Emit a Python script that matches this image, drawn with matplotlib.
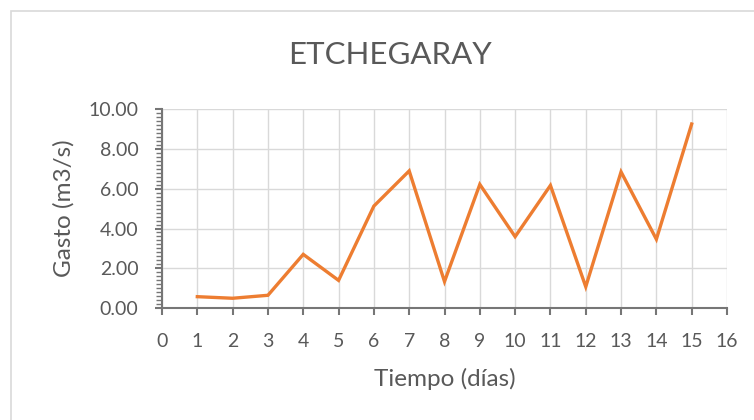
import matplotlib
matplotlib.use("Agg")
import matplotlib.pyplot as plt
from matplotlib.patches import Rectangle
from matplotlib.ticker import MultipleLocator, FormatStrFormatter

dias = [1, 2, 3, 4, 5, 6, 7, 8, 9, 10, 11, 12, 13, 14, 15]
gasto = [0.57, 0.49, 0.64, 2.70, 1.39, 5.13, 6.90, 1.33, 6.22, 3.59,
         6.17, 1.07, 6.85, 3.46, 9.26]
titulo = "ETCHEGARAY"
etiqueta_x = "Tiempo (días)"
etiqueta_y = "Gasto (m3/s)"

plt.rcParams['font.family'] = ['Lato', 'DejaVu Sans']
texto = '#595959'
eje = '#767676'
rejilla = '#d9d9d9'
naranja = '#ED7D31'

fig = plt.figure(figsize=(7.54, 4.20), dpi=100)
fig.patch.set_facecolor('white')

# chart-area frame
fig.patches.append(Rectangle((11 / 754, -0.1), 1.2, 1 - 11 / 420 + 0.1,
                             transform=fig.transFigure, fill=False,
                             edgecolor=rejilla, linewidth=1.2))

ax = fig.add_axes([162 / 754, 1 - 308 / 420, (727 - 162) / 754, (308 - 109.3) / 420])
ax.plot(dias, gasto, color=naranja, linewidth=2.4, solid_joinstyle='miter', zorder=3)

ax.set_xlim(0, 16)
ax.set_ylim(0, 10)
ax.xaxis.set_major_locator(MultipleLocator(1))
ax.yaxis.set_major_locator(MultipleLocator(2))
ax.yaxis.set_minor_locator(MultipleLocator(0.2))
ax.yaxis.set_major_formatter(FormatStrFormatter('%.2f'))

ax.grid(True, which='major', color=rejilla, linewidth=1.0, zorder=0)
for s in ['top', 'right']:
    ax.spines[s].set_visible(False)
for s in ['left', 'bottom']:
    ax.spines[s].set_color(eje)
    ax.spines[s].set_linewidth(1.5)

ax.tick_params(axis='x', which='major', direction='out', length=5, width=1.5,
               color=eje, labelcolor=texto, labelsize=14, pad=13)
ax.tick_params(axis='y', which='major', direction='out', length=5, width=1.5,
               color=eje, labelcolor=texto, labelsize=14, pad=12)
ax.tick_params(axis='y', which='minor', direction='out', length=4, width=1.0,
               color=eje)

ax.set_xlabel(etiqueta_x, color=texto, fontsize=17.5, labelpad=13)
ax.set_ylabel(etiqueta_y, color=texto, fontsize=17.5, labelpad=10)
fig.text(390 / 754, 1 - 55 / 420, titulo, ha='center', va='center',
         color=texto, fontsize=22.5)

fig.savefig('out.png', dpi=100, facecolor='white')
